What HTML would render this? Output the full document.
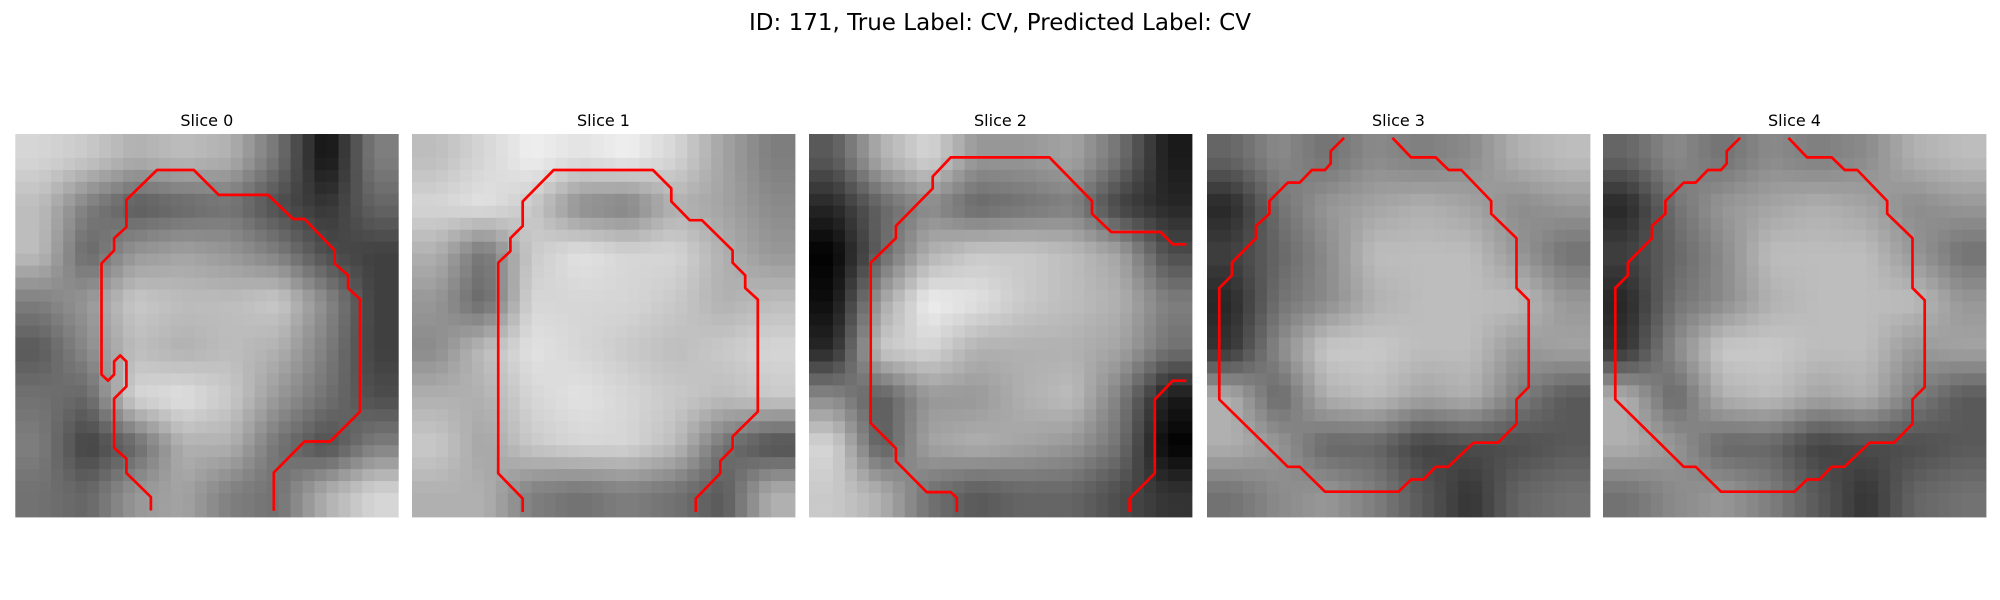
<!DOCTYPE html>
<html><head><meta charset="utf-8">
<style>
html,body{margin:0;padding:0;background:#fff;}
svg{display:block;font-family:"DejaVu Sans","Liberation Sans",sans-serif;}
</style></head>
<body>
<svg id="fig" width="2000" height="600" viewBox="0 0 2000 600" xmlns="http://www.w3.org/2000/svg">
<rect width="2000" height="600" fill="#fff"/>
<text x="1000" y="30" text-anchor="middle" font-size="23" fill="#000">ID: 171, True Label: CV, Predicted Label: CV</text>
</svg>
<script>
const sliceTitles = ["Slice 0","Slice 1","Slice 2","Slice 3","Slice 4"];
const img0 = [[200,190,170,180,170,120,40,130],[180,130,100,110,120,90,70,110],[180,110,150,160,150,130,90,80],[130,150,190,180,180,190,140,80],[100,140,180,170,180,170,130,80],[120,110,200,210,190,150,120,90],[130,80,110,170,170,120,90,130],[120,110,150,160,130,120,170,200]];
const img1 = [[180,200,220,210,220,200,160,130],[200,210,190,140,130,170,160,140],[170,120,190,210,200,200,170,150],[150,110,200,200,200,190,170,180],[140,180,210,200,190,180,190,200],[170,170,200,210,200,190,180,190],[190,160,190,200,200,180,120,90],[170,170,130,120,130,120,100,170]];
const img2 = [[100,170,200,150,150,160,120,50],[60,110,140,110,120,130,80,60],[30,110,170,190,190,180,160,90],[40,160,220,210,190,180,170,130],[60,190,200,170,170,170,160,120],[140,100,150,150,170,180,130,50],[200,100,160,170,160,150,120,30],[190,170,120,100,110,110,90,70]];
const img3 = [[110,140,120,140,130,140,170,180],[60,120,150,160,170,160,140,150],[80,110,140,180,180,180,150,120],[60,120,140,170,180,180,180,150],[70,140,190,190,180,180,150,160],[170,110,170,180,160,170,130,100],[170,150,110,110,80,90,90,100],[120,140,150,130,100,70,110,120]];
const img4 = img3;
const images = [img0,img1,img2,img3,img4];
const c0a = [[0.354,0.983],[0.354,0.948],[0.29,0.885],[0.29,0.848],[0.258,0.819],[0.258,0.691],[0.29,0.659],[0.29,0.594],[0.274,0.578],[0.258,0.594],[0.258,0.628],[0.242,0.644],[0.225,0.628],[0.225,0.338],[0.258,0.304],[0.258,0.272],[0.29,0.243],[0.29,0.172],[0.37,0.094],[0.466,0.094],[0.531,0.159],[0.66,0.159],[0.725,0.222],[0.755,0.222],[0.834,0.304],[0.834,0.338],[0.869,0.369],[0.869,0.403],[0.9,0.431],[0.9,0.725],[0.822,0.803],[0.755,0.803],[0.675,0.884],[0.675,0.984]];
const c1a = [[0.289,0.987],[0.289,0.952],[0.225,0.886],[0.225,0.336],[0.257,0.306],[0.257,0.272],[0.289,0.240],[0.289,0.176],[0.370,0.094],[0.629,0.094],[0.677,0.142],[0.677,0.176],[0.725,0.225],[0.757,0.225],[0.837,0.304],[0.837,0.336],[0.870,0.369],[0.870,0.402],[0.903,0.432],[0.903,0.725],[0.837,0.790],[0.837,0.821],[0.805,0.854],[0.805,0.886],[0.741,0.952],[0.741,0.987]];
const c2a = [[0.386,0.987],[0.386,0.950],[0.370,0.935],[0.307,0.935],[0.227,0.854],[0.227,0.821],[0.161,0.755],[0.161,0.336],[0.227,0.272],[0.227,0.240],[0.323,0.142],[0.323,0.111],[0.370,0.061],[0.628,0.061],[0.739,0.175],[0.739,0.208],[0.789,0.256],[0.918,0.256],[0.950,0.288],[0.985,0.288]];
const c2b = [[0.837,0.987],[0.837,0.952],[0.903,0.886],[0.903,0.693],[0.950,0.644],[0.985,0.644]];
const c3a = [[0.358,0.010],[0.323,0.045],[0.323,0.077],[0.308,0.094],[0.274,0.094],[0.242,0.127],[0.211,0.127],[0.163,0.175],[0.163,0.208],[0.128,0.240],[0.128,0.272],[0.065,0.336],[0.065,0.369],[0.032,0.402],[0.032,0.693],[0.211,0.869],[0.242,0.869],[0.308,0.934],[0.500,0.934],[0.533,0.902],[0.565,0.902],[0.597,0.869],[0.630,0.869],[0.696,0.806],[0.760,0.806],[0.808,0.757],[0.808,0.693],[0.840,0.661],[0.840,0.434],[0.808,0.402],[0.808,0.272],[0.742,0.208],[0.742,0.175],[0.664,0.094],[0.631,0.094],[0.597,0.061],[0.533,0.061],[0.484,0.010]];
const contours = [[c0a],[c1a],[c2a,c2b],[c3a],[c3a]];

const NS = "http://www.w3.org/2000/svg";
const svg = document.getElementById('fig');
const panelX = [15.3, 412, 809, 1207, 1603];
const panelY = 134, S = 383, N = 32;
function sample(g, u, v){
  const n = g.length;
  let fx = u*n - 0.5, fy = v*n - 0.5;
  fx = Math.max(0, Math.min(n-1, fx)); fy = Math.max(0, Math.min(n-1, fy));
  const x0 = Math.floor(fx), y0 = Math.floor(fy);
  const x1 = Math.min(n-1, x0+1), y1 = Math.min(n-1, y0+1);
  const ax = fx-x0, ay = fy-y0;
  return (g[y0][x0]*(1-ax)+g[y0][x1]*ax)*(1-ay) + (g[y1][x0]*(1-ax)+g[y1][x1]*ax)*ay;
}
images.forEach((g, k) => {
  const grp = document.createElementNS(NS,'g');
  
  
  const t = document.createElementNS(NS,'text');
  
  
  t.setAttribute('x', panelX[k] + S/2); t.setAttribute('y', 126);
  t.setAttribute('text-anchor','middle'); t.setAttribute('font-size','16');
  t.textContent = sliceTitles[k];
  grp.appendChild(t);
  const cs = S / N;
  for (let r = 0; r < N; r++) for (let c = 0; c < N; c++) {
    let val = sample(g, (c+0.5)/N, (r+0.5)/N);
    val = Math.round(Math.max(0, Math.min(255, 145 + (val-145)*1.25)));
    const rc = document.createElementNS(NS,'rect');
    rc.setAttribute('x', (panelX[k] + c*cs).toFixed(2));
    rc.setAttribute('y', (panelY + r*cs).toFixed(2));
    rc.setAttribute('width', (cs+0.4).toFixed(2));
    rc.setAttribute('height', (cs+0.4).toFixed(2));
    rc.setAttribute('fill', `rgb(${val},${val},${val})`);
    grp.appendChild(rc);
  }
  contours[k].forEach((pts, j) => {
    const pl = document.createElementNS(NS,'polyline');
    
    
    pl.setAttribute('points', pts.map(p => (panelX[k] + p[0]*S).toFixed(1) + ',' + (panelY + p[1]*S).toFixed(1)).join(' '));
    pl.setAttribute('fill','none'); pl.setAttribute('stroke','#ff0000');
    pl.setAttribute('stroke-width','2.7'); pl.setAttribute('stroke-linejoin','round');
    grp.appendChild(pl);
  });
  svg.appendChild(grp);
});
</script>
</body></html>
